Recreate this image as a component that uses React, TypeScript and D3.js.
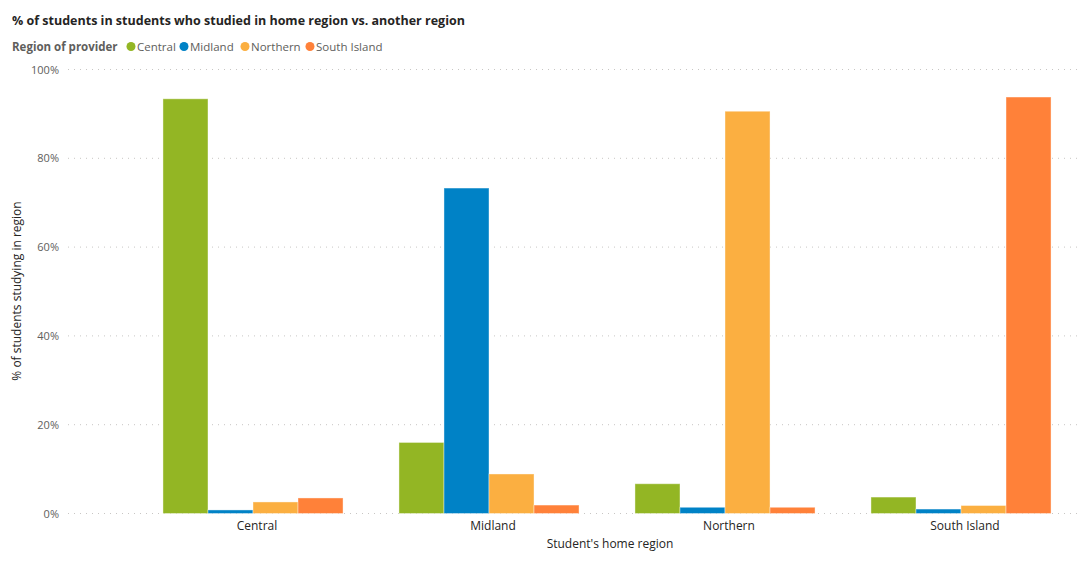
import React from "react";
import * as d3 from "d3";

const categories = ["Central", "Midland", "Northern", "South Island"];
const seriesNames = ["Central", "Midland", "Northern", "South Island"];
const centralValues = [93.4, 16.0, 6.7, 3.7];
const midlandValues = [0.8, 73.3, 1.4, 1.0];
const northernValues = [2.6, 8.9, 90.6, 1.8];
const southIslandValues = [3.5, 1.9, 1.4, 93.8];
const yTicks = [0, 20, 40, 60, 80, 100];
const colors = ["#93B624", "#0082C6", "#FBAF41", "#FF8139"];

const W = 1080;
const H = 563;

export default function App() {
  const series = [centralValues, midlandValues, northernValues, southIslandValues];
  const y = d3.scaleLinear().domain([0, 100]).range([513.5, 69.5]);
  const x0 = d3
    .scaleBand<string>()
    .domain(categories)
    .range([135, 1079])
    .paddingInner(0.237)
    .paddingOuter(0.1185);
  const x1 = d3
    .scaleBand<string>()
    .domain(seriesNames)
    .range([0, x0.bandwidth()]);
  const font = "'Segoe UI', 'Open Sans', 'DejaVu Sans', sans-serif";
  const legendX = [131, 184, 245, 310];
  return (
    <svg
      width={W}
      height={H}
      style={{ position: "absolute", left: 0, top: 0, background: "#fff" }}
      fontFamily={font}
    >
      <text x={12} y={25} fontSize={12.5} fontWeight="bold" fill="#252423">
        % of students in students who studied in home region vs. another region
      </text>
      <text x={12} y={51} fontSize={11.5} fontWeight="bold" fill="#605E5C">
        Region of provider
      </text>
      {seriesNames.map((s, i) => (
        <g key={s}>
          <circle cx={legendX[i]} cy={46.5} r={4.5} fill={colors[i]} />
          <text x={legendX[i] + 6} y={51} fontSize={11.5} fill="#605E5C">
            {s}
          </text>
        </g>
      ))}
      {yTicks.map((t) => (
        <g key={t}>
          <line
            x1={68}
            x2={1080}
            y1={y(t)}
            y2={y(t)}
            stroke="#C8C6C4"
            strokeDasharray="1,5"
            strokeWidth={1}
          />
          <text x={59} y={y(t) + 4} fontSize={11} textAnchor="end" fill="#605E5C">
            {t}%
          </text>
        </g>
      ))}
      {categories.map((c, ci) => (
        <g key={c} transform={`translate(${x0(c)},0)`}>
          {seriesNames.map((s, si) => {
            const v = series[si][ci];
            return (
              <rect
                key={s}
                x={x1(s)}
                y={y(v)}
                width={x1.bandwidth()}
                height={y(0) - y(v)}
                fill={colors[si]}
                stroke="#fff"
                strokeOpacity={0.4}
                strokeWidth={1}
              />
            );
          })}
          <text
            x={x0.bandwidth() / 2 + 4}
            y={530}
            fontSize={12}
            textAnchor="middle"
            fill="#252423"
          >
            {c}
          </text>
        </g>
      ))}
      <text x={610} y={548} fontSize={12} textAnchor="middle" fill="#252423">
        Student's home region
      </text>
      <text
        transform={`translate(21,291) rotate(-90)`}
        fontSize={12}
        textAnchor="middle"
        fill="#252423"
      >
        % of students studying in region
      </text>
    </svg>
  );
}
